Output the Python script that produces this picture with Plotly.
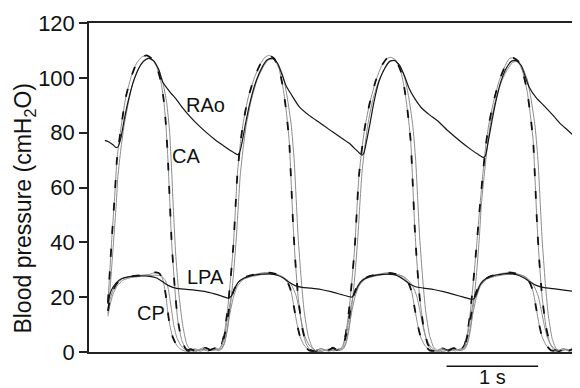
import plotly.graph_objects as go

# Recording sampled at 92 Hz; sample numbers within the recording
SAMPLE_RATE = 92.0
WINDOW = (89, 577)          # samples shown
SCALE_BAR = (448, 540)      # 1 s scale bar (samples)

# Ventricular pressure, cavum arteriosum (dashed trace)
ca_dash_n = [108,110,112,115,117,119,122,126,131,137,142,147,152,157,161,164,166,168,170,172,175,178,182,186,190,195,200,206,211,216,219,222,225,228,231,234,236,238,241,244,249,255,261,266,270,275,280,284,287,290,292,294,296,299,303,307,311,316,322,328,334,338,341,344,347,350,353,356,358,360,363,366,371,377,383,388,392,397,402,406,409,412,414,416,418,421,425,429,433,438,444,450,456,460,463,466,469,472,475,478,481,484,487,490,495,501,507,511,515,520,525,529,532,535,537,539,541,544,548,552,556,561,566,571,577]
ca_dash_v = [18,30,42,58,70,76,84,93,100,105.5,107.6,108.2,107,104,99,92,84,72,56,40,24,12,4.5,1.2,0.3,1.2,0.6,1.5,0.8,1.6,1,2.5,7,15,26,39,52,65,76,84,93,100,105,107.6,108.2,107,103,96,88,77,62,46,34,20,9,3,0.8,0.3,1.2,0.5,1.6,0.7,1,2.5,7,15,26,39,52,64,74,82,91,99,104.5,107,107.5,106.5,102.5,95.5,87.5,77,62,46,34,20,9,3,0.8,0.3,1.3,0.5,1.5,0.7,1,2.5,7,15,26,38,51,63,74,82,91,99,104.5,107,107.3,106,101.5,95,87,77,62,46,34,20,9,3,0.8,0.3,1.2,0.5,1.8]

# Ventricular pressure, cavum arteriosum (thin trace)
ca_thin_n = [108,110,113,116,118,121,124,128,133,139,144,149,154,159,163,167,170,172,174,176,179,183,187,191,196,202,208,214,219,222,225,228,231,234,237,239,241,244,247,252,258,264,269,274,279,284,288,292,295,297,299,302,305,309,313,317,323,329,335,340,344,347,350,353,356,359,361,363,366,369,374,380,386,391,396,401,406,410,414,417,419,421,424,427,431,435,439,445,451,457,462,466,469,472,475,478,481,483,486,489,492,497,503,509,514,519,524,529,533,537,540,542,544,547,550,554,558,563,569,574,577]
ca_thin_v = [14,22,37,52,64,74,82,90,98,103.5,106,107,106,103,98.5,91,80,66,50,36,22,10,3,0.6,0.2,1,0.4,1.2,0.5,1,3,8,17,28,42,54,65,75,83,92,99.5,104,106.5,106.8,105,100.5,93,83,70,56,42,27,15,6,1.8,0.4,0.2,1,0.4,1.2,1,3,8,17,28,42,54,65,75,83,92,99,103.5,106,106.5,104.5,100,93,83,70,56,42,27,15,6,1.8,0.4,0.2,1,0.4,1.2,1,3,8,17,28,42,54,65,75,83,91.5,98.5,103,105.5,106,104,99.5,92,82,69,55,41,26,14,5,1.2,0.3,1,0.4,1]

# Right aorta
rao_n = [105,109,113,116,118,121,124,128,133,139,144,149,154,159,163,170,177,183,190,198,207,215,223,231,238,240,243,246,251,257,263,268,273,278,283,287,292,300,310,320,330,340,350,357,363,365,368,371,375,380,386,391,396,401,406,410,416,423,431,440,450,463,472,480,485,487,490,493,497,502,508,513,518,523,527,531,538,547,555,563,570,577]
rao_v = [77.2,76.6,75.6,74.6,74.8,78,84,91,98,103.5,106.2,107.2,106.2,103,98.5,95,92,89,86,83,80,77.6,75.5,73.5,72,72.5,77,83,91.5,99,104,106.6,107.2,105.5,101,97,94,89.5,86.3,83.8,81.2,78.7,76.2,73.8,71.8,72.5,77.5,83,91,98.5,103.5,106,106.3,104.5,100.5,96.5,92.5,89,86.5,84,80.5,76.5,74,72,71,71.5,77,83,90.5,98,103.5,106,106.3,104.5,100.5,96.6,92.8,89.4,86.3,83,80.8,78.4]

# Left pulmonary artery
lpa_n = [108,110,113,117,122,130,140,150,157,163,169,176,185,195,205,215,223,229,232,235,239,245,253,262,270,278,284,290,296,303,312,322,332,342,350,353,356,359,363,370,379,388,395,401,406,411,417,425,435,445,455,465,472,475,478,481,485,492,500,508,514,520,526,532,538,545,555,566,577]
lpa_v = [17.5,21,23.6,25.5,26.8,27.5,27.8,27.6,27,25.6,24.2,23.3,22.9,22.6,22.1,21.2,20.3,19.6,20.5,23,25.5,27,27.9,28.4,28.5,28,27,25.4,24.2,23.6,23.3,22.8,22,21,20.2,20,21.5,24,26,27.4,28.1,28.4,28.2,27.4,26.2,24.8,23.8,23.3,22.8,22,21,20,19.3,19.3,21,24,26,27.6,28.2,28.6,28.5,28,27,25.5,24.3,23.6,23.1,22.6,22]

# Ventricular pressure, cavum pulmonale (dashed trace)
cp_dash_n = [108,110,113,117,123,132,142,150,155,159,162,164,166,168,170,173,177,181,186,191,197,203,209,215,219,222,225,228,231,235,240,248,258,266,274,280,285,289,292,295,298,301,305,310,316,322,328,334,339,341,344,347,350,353,357,362,370,380,388,395,401,406,410,413,416,419,422,426,431,437,443,449,455,460,463,466,469,472,475,479,484,492,502,510,517,523,528,532,535,538,541,544,548,553,559,565,571,577]
cp_dash_v = [15,19,22.5,25,26.8,27.6,28,28.3,29,28.8,27.5,25,21,15,10,5.5,2.5,1,0.3,1,0.4,1.5,0.6,1.3,0.8,2,6,12,18.5,23,26,27.6,28.5,29,28.7,28,27,25,22,16,10,5.5,2.5,0.6,0.4,1.3,0.5,1.4,0.6,0.8,2,6,12,18.5,23,26,27.6,28.4,28.9,28.6,28,27,25,22,16,10,5.5,2.5,0.6,0.4,1.3,0.5,1.4,0.6,0.8,2,6,12,18.5,23,26,27.6,28.5,29,28.7,28,27,25,22,16,10,5.5,2.5,0.6,0.4,1.2,0.5,1.6]

# Ventricular pressure, cavum pulmonale (thin trace)
cp_thin_n = [108,110,113,117,123,132,142,150,156,161,165,168,170,172,174,177,181,185,190,195,201,207,213,219,222,225,228,231,234,238,244,252,262,270,277,283,289,293,297,300,303,306,310,314,318,324,330,336,341,344,347,350,353,356,360,366,374,384,392,399,405,410,414,418,421,424,427,431,435,439,445,451,457,463,466,469,472,475,478,482,488,496,506,514,521,527,532,536,540,543,546,549,553,557,561,567,572,577]
cp_thin_v = [13,17,21,24,26.2,27.2,27.6,27.9,28,27.8,26.5,24,20,15,10,5.5,2.5,1,0.3,0.8,0.3,1.2,0.5,1,1.2,3.5,9,15,20,24,26.5,27.5,28.2,28.4,28.2,27.5,26,24,20.5,15.5,10,5.5,2.5,1,0.3,0.8,0.3,1.1,0.5,1.2,3.5,9,15,20,24,26.5,27.5,28.2,28.4,28.2,27.5,26,24,20.5,15.5,10,5.5,2.5,1,0.3,0.8,0.3,1.1,0.5,1.2,3.5,9,15,20,24,26.5,27.5,28.2,28.4,28.2,27.5,26,24,20.5,15.5,10,5.5,2.5,1,0.3,0.9,0.3,1]

y_ticks = [0, 20, 40, 60, 80, 100, 120]
trace_labels = [("RAo", 206, 90.0), ("CA", 186, 71.5), ("LPA", 206, 27.5), ("CP", 151, 14.2)]


def sec(samples):
    return [s / SAMPLE_RATE for s in samples]


FONT = "Liberation Sans, Arial, Helvetica, sans-serif"
GREY = "#8c8c8c"
DARK = "#161616"

fig = go.Figure()

def thin(n, v, color=GREY, width=1.0):
    fig.add_trace(go.Scatter(x=sec(n), y=v, mode="lines", hoverinfo="skip",
                             line=dict(color=color, width=width, shape="spline", smoothing=0.5)))

def dashed(n, v):
    thin(n, v)
    fig.add_trace(go.Scatter(x=sec(n), y=v, mode="lines", hoverinfo="skip",
                             line=dict(color="#111111", width=1.8, dash="8px,15px",
                                       shape="spline", smoothing=0.5)))

thin(ca_thin_n, ca_thin_v)
thin(cp_thin_n, cp_thin_v)
dashed(ca_dash_n, ca_dash_v)
dashed(cp_dash_n, cp_dash_v)
thin(rao_n, rao_v, DARK, 1.2)
thin(lpa_n, lpa_v, DARK, 1.2)

for name, n, yv in trace_labels:
    fig.add_annotation(x=n / SAMPLE_RATE, y=yv, text=name, showarrow=False,
                       font=dict(size=20, color="#111", family=FONT),
                       xanchor="center", yanchor="middle")

# 1 s scale bar
fig.add_shape(type="line", xref="x", yref="paper",
              x0=SCALE_BAR[0] / SAMPLE_RATE, x1=SCALE_BAR[1] / SAMPLE_RATE,
              y0=-0.043, y1=-0.043, line=dict(color="#111", width=1.5))
fig.add_annotation(xref="x", yref="paper",
                   x=(SCALE_BAR[0] + SCALE_BAR[1]) / 2 / SAMPLE_RATE, y=-0.077,
                   text="1 s", showarrow=False, xanchor="center", yanchor="middle",
                   font=dict(size=20, color="#111", family=FONT))

# y-axis title
fig.add_annotation(xref="paper", yref="paper", x=-0.133, y=0.437,
                   text="Blood pressure (cmH<sub>2</sub>O)", textangle=-90,
                   showarrow=False, xanchor="center", yanchor="middle",
                   font=dict(size=23, color="#111", family=FONT))

# page body has an 8 px default margin, so the figure is 8 px smaller each way
fig.update_layout(
    width=572, height=380,
    margin=dict(l=81, r=3, t=15, b=36),
    paper_bgcolor="white", plot_bgcolor="white",
    showlegend=False,
    font=dict(family=FONT, color="#111"),
)
fig.update_xaxes(range=[WINDOW[0] / SAMPLE_RATE, WINDOW[1] / SAMPLE_RATE],
                 showgrid=False, zeroline=False, showticklabels=False, ticks="",
                 showline=True, linecolor="#222", linewidth=1.5, mirror=True)
fig.update_yaxes(range=[0, 120], tickvals=y_ticks, showgrid=False, zeroline=False,
                 ticks="outside", ticklen=8, tickwidth=1.5, tickcolor="#222",
                 tickfont=dict(size=22, family=FONT, color="#111"),
                 showline=True, linecolor="#222", linewidth=1.5, mirror=True)

fig.write_html("out.html")
